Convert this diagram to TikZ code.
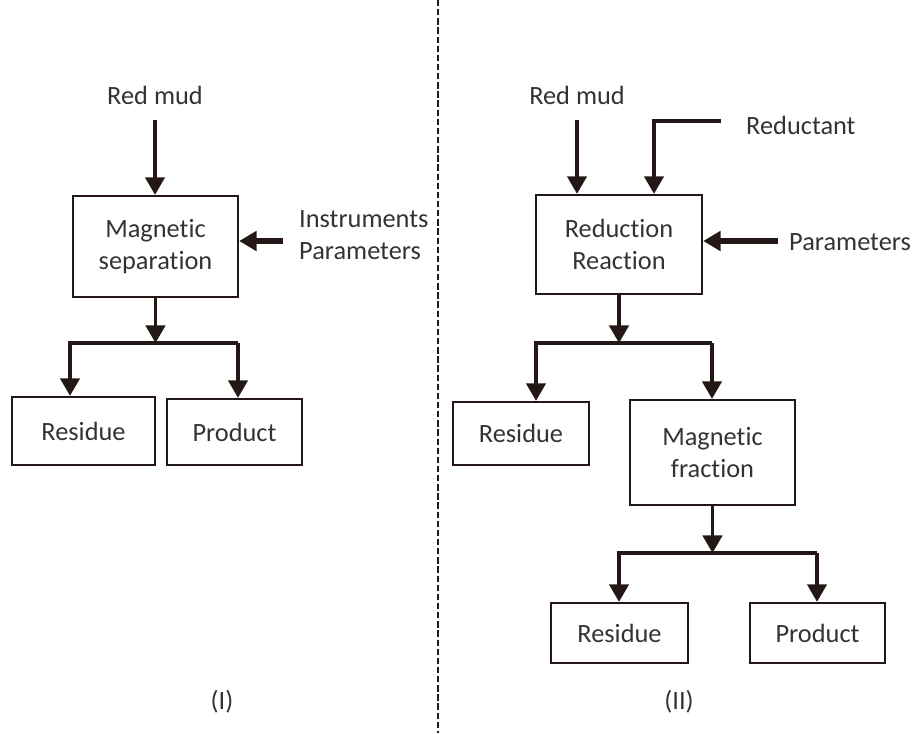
\documentclass[tikz,border=0pt]{standalone}
\usepackage{fontspec}
\setmainfont{Carlito}[Ligatures=NoCommon]
\usepackage{tikz}
\usetikzlibrary{arrows.meta, positioning}
\definecolor{ink}{HTML}{231815}
\definecolor{txt}{HTML}{333333}

\tikzset{
    stage/.style={draw=ink, line width=1.3pt, align=center, inner sep=0pt, text=txt},
    label/.style={text=txt, align=left},
    flow/.style={draw=ink, line width=2pt, -{Triangle[length=10pt, width=11pt]}},
    feed/.style={draw=ink, line width=3pt, -{Triangle[length=10pt, width=11pt]}},
}

\begin{document}
\begin{tikzpicture}[x=0.02cm, y=-0.02cm, every node/.style={font=\fontsize{15}{18}\selectfont}]
        \useasboundingbox (0,0) rectangle (912,733);

        % Divider
        \draw[ink, line width=1.3pt, dash pattern=on 3.6pt off 1.6pt] (438,0) -- (438,733);

        % Boxes (I)
        \node[stage, minimum width=3.3cm, minimum height=2.02cm] (msep) at (155.5,246.5) {Magnetic\\separation};
        \node[stage, minimum width=2.86cm, minimum height=1.36cm] (res1) at (83.5,431) {Residue};
        \node[stage, minimum width=2.7cm, minimum height=1.32cm] (prod1) at (234.5,432) {Product};

        % Boxes (II)
        \node[stage, minimum width=3.32cm, minimum height=1.98cm] (red) at (619,244.5) {Reduction\\Reaction};
        \node[stage, minimum width=2.72cm, minimum height=1.26cm] (res2) at (521,433.5) {Residue};
        \node[stage, minimum width=3.3cm, minimum height=2.1cm] (magf) at (712.5,452.5) {Magnetic\\fraction};
        \node[stage, minimum width=2.74cm, minimum height=1.2cm] (res3) at (619.5,633) {Residue};
        \node[stage, minimum width=2.7cm, minimum height=1.2cm] (prod3) at (817.5,633) {Product};

        % Labels
        \node[label, anchor=base] (mud1) at (155,105) {Red mud};
        \node[label, anchor=west] (instr) at (293,235) {Instruments\\Parameters};
        \node[label, anchor=base] (mud2) at (577,105) {Red mud};
        \node[label, anchor=base west] (reduct) at (740,135) {Reductant};
        \node[label, anchor=base west] (param) at (783,250) {Parameters};
        \node[label, anchor=base] (num1) at (222,709) {(I)};
        \node[label, anchor=base] (num2) at (679,709) {(II)};

        % Points
        \coordinate (in1) at (283,241);
        \coordinate (l1) at (70,343);
        \coordinate (r1) at (238,343);
        \coordinate (rdstart) at (721,121);
        \coordinate (rdcorner) at (654,121);
        \coordinate (in2) at (778,241);
        \coordinate (l2) at (536,343);
        \coordinate (r2) at (712,343);
        \coordinate (l3) at (619,553);
        \coordinate (r3) at (817,553);

        % Arrows (I)
        \draw[flow, shorten <=5pt] (mud1.south) -- (mud1.south |- msep.north);
        \draw[feed] (in1) -- (in1 -| msep.east);
        \draw[flow] (msep.south) -- (msep.south |- l1);
        \draw[flow] (r1) -- (l1) -- (l1 |- res1.north);
        \draw[flow] (r1) -- (r1 |- prod1.north);

        % Arrows (II)
        \draw[flow, shorten <=5pt] (mud2.south) -- (mud2.south |- red.north);
        \draw[flow] (rdstart) -- (rdcorner) -- (rdcorner |- red.north);
        \draw[feed] (in2) -- (in2 -| red.east);
        \draw[flow] (red.south) -- (red.south |- l2);
        \draw[flow] (r2) -- (l2) -- (l2 |- res2.north);
        \draw[flow] (r2) -- (r2 |- magf.north);
        \draw[flow] (magf.south) -- (magf.south |- l3);
        \draw[flow] (r3) -- (l3) -- (l3 |- res3.north);
        \draw[flow] (r3) -- (r3 |- prod3.north);

    \end{tikzpicture}
\end{document}
